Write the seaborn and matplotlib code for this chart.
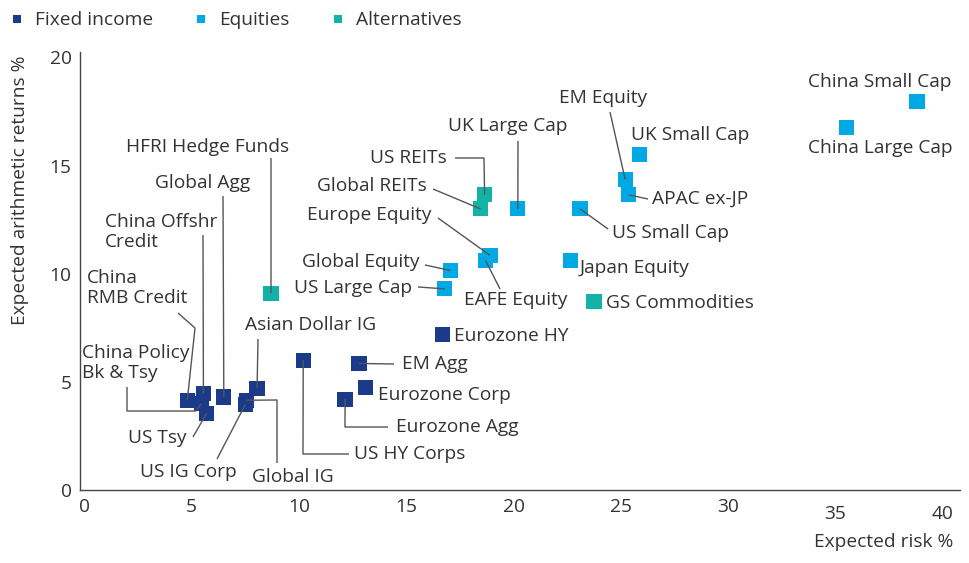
import pandas as pd
import seaborn as sns
import matplotlib.pyplot as plt
from matplotlib.transforms import ScaledTranslation

# ==========================================
# 1. DATA (expected risk % vs expected arithmetic return %)
# ==========================================
fixed_names = ["China RMB Credit", "China Offshr Credit", "China Policy Bk & Tsy", "US Tsy",
               "Global Agg", "US IG Corp", "Global IG", "Asian Dollar IG", "US HY Corps",
               "EM Agg", "Eurozone Corp", "Eurozone Agg", "Eurozone HY"]
fixed_risk = [4.8, 5.55, 5.45, 5.7, 6.5, 7.5, 7.55, 8.05, 10.2, 12.8, 13.1, 12.15, 16.7]
fixed_ret = [4.15, 4.45, 4.0, 3.55, 4.3, 3.95, 4.15, 4.7, 6.0, 5.85, 4.75, 4.2, 7.2]

equity_names = ["China Small Cap", "China Large Cap", "UK Small Cap", "EM Equity", "APAC ex-JP",
                "US Small Cap", "UK Large Cap", "Japan Equity", "Europe Equity", "EAFE Equity",
                "Global Equity", "US Large Cap"]
equity_risk = [38.8, 35.5, 25.85, 25.2, 25.35, 23.1, 20.2, 22.65, 18.9, 18.7, 17.05, 16.8]
equity_ret = [17.95, 16.75, 15.5, 14.35, 13.65, 13.0, 13.0, 10.6, 10.85, 10.6, 10.15, 9.3]

alt_names = ["HFRI Hedge Funds", "US REITs", "Global REITs", "GS Commodities"]
alt_risk = [8.7, 18.65, 18.45, 23.75]
alt_ret = [9.1, 13.65, 13.0, 8.7]

groups = ["Fixed income", "Equities", "Alternatives"]
colors = {"Fixed income": "#1b3a8a", "Equities": "#00a9e4", "Alternatives": "#12b3a6"}

x_ticks = [0, 5, 10, 15, 20, 25, 30, 35, 40]
y_ticks = [0, 5, 10, 15, 20]

df = pd.DataFrame({
    "name": fixed_names + equity_names + alt_names,
    "risk": fixed_risk + equity_risk + alt_risk,
    "ret": fixed_ret + equity_ret + alt_ret,
    "group": ["Fixed income"] * len(fixed_names) + ["Equities"] * len(equity_names)
             + ["Alternatives"] * len(alt_names),
})

# label placement in figure pixels (from top-left): text x, text y, ha, leader bends
labels = {
    "China Small Cap": (880, 82, "center", []),
    "China Large Cap": (880, 148, "center", []),
    "UK Small Cap": (690, 135, "center", []),
    "EM Equity": (603, 98, "center", [(610, 112)]),
    "APAC ex-JP": (652, 199, "left", [(648, 199)]),
    "US Small Cap": (612, 233, "left", [(608, 229)]),
    "UK Large Cap": (508, 126, "center", [(518, 141)]),
    "US REITs": (447, 158, "right", [(455, 158), (484, 158)]),
    "Global REITs": (427, 186, "right", [(433, 189)]),
    "Europe Equity": (432, 215, "right", [(438, 218)]),
    "EAFE Equity": (516, 300, "center", [(500, 289)]),
    "Global Equity": (420, 262, "right", [(425, 265)]),
    "US Large Cap": (412, 288, "right", [(418, 287)]),
    "Japan Equity": (580, 268, "left", []),
    "GS Commodities": (606, 303, "left", []),
    "HFRI Hedge Funds": (208, 147, "center", [(271, 158)]),
    "Global Agg": (203, 183, "center", [(223, 196)]),
    "China Offshr Credit": (105, 232, "left", [(203, 235)]),
    "China RMB Credit": (87, 288, "left", [(178, 313), (195, 328)]),
    "China Policy Bk & Tsy": (82, 363, "left", [(127, 387), (127, 411), (196, 411)]),
    "US Tsy": (157, 438, "center", [(193, 437)]),
    "US IG Corp": (188, 472, "center", [(217, 459)]),
    "Global IG": (293, 477, "center", [(277, 463), (277, 400)]),
    "Asian Dollar IG": (311, 325, "center", [(258, 339)]),
    "US HY Corps": (354, 454, "left", [(349, 454), (303, 454)]),
    "EM Agg": (402, 364, "left", [(394, 364)]),
    "Eurozone Corp": (378, 395, "left", []),
    "Eurozone Agg": (396, 427, "left", [(388, 427), (345, 427)]),
    "Eurozone HY": (454, 336, "left", []),
}
display_text = {
    "China Offshr Credit": "China Offshr\nCredit",
    "China RMB Credit": "China\nRMB Credit",
    "China Policy Bk & Tsy": "China Policy\nBk & Tsy",
}

# ==========================================
# 2. PLOT
# ==========================================
sns.set_style("white")
plt.rcParams['font.family'] = ['Open Sans', 'DejaVu Sans']
TXT = "#333333"
FS = 13.8

W, H = 969, 563
fig = plt.figure(figsize=(W / 100, H / 100), dpi=100)
ax = fig.add_axes([80 / W, 73 / H, 880 / W, 438 / H])

sns.scatterplot(data=df, x="risk", y="ret", hue="group", hue_order=groups, palette=colors,
                marker="s", s=120, linewidth=0, ax=ax, zorder=2)

ax.set_xlim(-0.2, 40.8)
ax.set_ylim(0, 20.25)
ax.set_xticks(x_ticks)
ax.set_yticks(y_ticks)
ax.tick_params(length=0, labelsize=FS, labelcolor=TXT, pad=6)
ax.set_xlabel("")
ax.set_ylabel("")
sns.despine(ax=ax)
for s in ["left", "bottom"]:
    ax.spines[s].set_color("#444444")
    ax.spines[s].set_linewidth(1.0)

# the 35 and 40 labels sit a little lower in the original
for lab in ax.get_xticklabels()[-2:]:
    lab.set_transform(lab.get_transform() + ScaledTranslation(0, -7 / 100, fig.dpi_scale_trans))

fig.text(20 / W, 1 - 190 / H, "Expected arithmetic returns %", rotation=90,
         ha="center", va="center", fontsize=FS, color=TXT)
fig.text(953 / W, 1 - 542 / H, "Expected risk %", ha="right", va="center",
         fontsize=FS, color=TXT)

inv = ax.transData.inverted()


def to_data(px, py):
    return inv.transform((px, H - py))


pts = df.set_index("name")
for name, (tx, ty, ha, bends) in labels.items():
    x0, y0 = to_data(tx, ty)
    ax.text(x0, y0, display_text.get(name, name), ha=ha, va="center", fontsize=FS,
            color=TXT, linespacing=1.2, zorder=4)
    if bends:
        path = [to_data(bx, by) for bx, by in bends]
        path.append((pts.loc[name, "risk"], pts.loc[name, "ret"]))
        xs, ys = zip(*path)
        ax.plot(xs, ys, color="#555555", lw=1.0, zorder=3, solid_capstyle="butt")

# legend across the top
sns.move_legend(ax, "upper left", bbox_to_anchor=(-7 / W, 1 + 6 / H),
                bbox_transform=fig.transFigure, ncol=3, frameon=False, title=None,
                fontsize=FS, markerscale=0.58, handlelength=0.7, handletextpad=0.6,
                columnspacing=2.15, labelcolor=TXT)

plt.savefig("out.png", dpi=100)
